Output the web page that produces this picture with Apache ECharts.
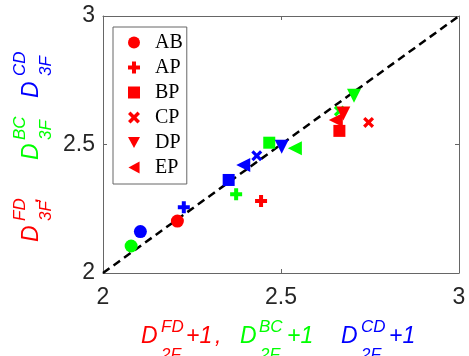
<!DOCTYPE html>
<html>
<head>
    <meta charset="utf-8">
</head>
<body style="margin: 0">
    <div id="main" style="width: 469px; height: 356px"></div>
    <script src="https://cdn.jsdelivr.net/npm/echarts@6/dist/echarts.min.js"></script>
    <script>
        // pair names in the legend
        var pairs = ['AB', 'AP', 'BP', 'CP', 'DP', 'EP']
        // red: D2F^FD + 1 vs D3F^FD
        var fdX = [2.209, 2.444, 2.664, 2.746, 2.675, 2.654]
        var fdY = [2.202, 2.280, 2.553, 2.586, 2.621, 2.595]
        // green: D2F^BC + 1 vs D3F^BC
        var bcX = [2.079, 2.374, 2.467, 2.664, 2.705, 2.539]
        var bcY = [2.105, 2.306, 2.507, 2.630, 2.690, 2.485]
        // blue: D2F^CD + 1 vs D3F^CD
        var cdX = [2.105, 2.227, 2.353, 2.432, 2.502, 2.394]
        var cdY = [2.161, 2.256, 2.362, 2.456, 2.491, 2.420]
        var diag = [[2, 2], [3, 3]]
        var xTicks = [2, 2.5, 3]

        var RED = '#ff0000', GREEN = '#00ff00', BLUE = '#0000ff'
        var plus = 'path://M4,0H8V4H12V8H8V12H4V8H0V4H4Z'
        var cross = 'path://M0,2.5L2.5,0L6,3.5L9.5,0L12,2.5L8.5,6L12,9.5L9.5,12L6,8.5L2.5,12L0,9.5L3.5,6Z'
        var square = 'path://M0,0H12V12H0Z'
        var triDown = 'path://M0,0L13,0L6.5,12Z'
        var triLeft = 'path://M12,0L12,13L0,6.5Z'
        var shapes = ['circle', plus, square, cross, triDown, triLeft]
        var sizes = [13, 12, 12, 11, 14, 14]

        var chart = echarts.init(document.getElementById('main'))

        var series = [{
            type: 'line',
            data: diag,
            symbol: 'none',
            silent: true,
            lineStyle: { color: '#000', width: 2.5, type: [8, 5] },
            z: 1
        }]
        pairs.forEach(function (p, i) {
            series.push({
                type: 'scatter',
                name: p,
                symbol: shapes[i],
                symbolSize: sizes[i],
                itemStyle: { color: RED, opacity: 1 },
                data: [
                    { value: [fdX[i], fdY[i]] },
                    { value: [bcX[i], bcY[i]], itemStyle: { color: GREEN } },
                    { value: [cdX[i], cdY[i]], itemStyle: { color: BLUE } }
                ],
                z: 3
            })
        })

        var axLine = { lineStyle: { color: '#666', width: 1 } }
        var lblFont = { fontSize: 23, color: '#262626', fontFamily: 'Liberation Sans, Arial' }

        function txt(t, x, y, size, color) {
            return {
                type: 'text',
                style: {
                    text: t, x: x, y: y,
                    font: 'italic ' + size + 'px "Liberation Sans", Arial',
                    fill: color, textAlign: 'left', textVerticalAlign: 'middle'
                }
            }
        }

        var option = {
            animation: false,
            grid: { left: 103, right: 10, top: 16, bottom: 83 },
            xAxis: [{
                type: 'value', min: 2, max: 3, interval: 0.5,
                axisLine: axLine,
                axisTick: { inside: true, length: 4, lineStyle: { color: '#666' } },
                axisLabel: Object.assign({ margin: 13, formatter: function (v) { return xTicks.indexOf(v) >= 0 ? String(v) : '' } }, lblFont),
                splitLine: { show: false }
            }, {
                type: 'value', min: 2, max: 3, interval: 0.5, position: 'top',
                axisLine: axLine,
                axisTick: { inside: true, length: 4, lineStyle: { color: '#666' } },
                axisLabel: { show: false },
                splitLine: { show: false }
            }],
            yAxis: [{
                type: 'value', min: 2, max: 3, interval: 0.5,
                axisLine: axLine,
                axisTick: { inside: true, length: 4, lineStyle: { color: '#666' } },
                axisLabel: Object.assign({ margin: 8 }, lblFont),
                splitLine: { show: false }
            }, {
                type: 'value', min: 2, max: 3, interval: 0.5, position: 'right',
                axisLine: axLine,
                axisTick: { inside: true, length: 4, lineStyle: { color: '#666' } },
                axisLabel: { show: false },
                splitLine: { show: false }
            }],
            legend: {
                data: pairs,
                orient: 'vertical',
                left: 113, top: 27,
                backgroundColor: '#fff',
                borderColor: '#666', borderWidth: 1, borderRadius: 0,
                padding: [3, 4, 4, 15],
                itemGap: 0, itemWidth: 12, itemHeight: 12,
                textStyle: { fontFamily: 'Liberation Serif, Times New Roman', fontSize: 20, lineHeight: 25, color: '#000', padding: [0, 0, 0, 10] }
            },
            series: series,
            graphic: [
                // x axis name
                txt('D', 141, 337, 23, RED),
                txt('FD', 161, 327, 17, RED),
                txt('2F', 161, 355, 17, RED),
                txt('+1', 186, 337, 23, RED),
                txt(',', 215, 337, 23, RED),
                txt('D', 240, 337, 23, GREEN),
                txt('BC', 259, 327, 17, GREEN),
                txt('2F', 260, 355, 17, GREEN),
                txt('+1', 287, 337, 23, GREEN),
                txt('D', 341, 337, 23, BLUE),
                txt('CD', 361, 327, 17, BLUE),
                txt('2F', 361, 355, 17, BLUE),
                txt('+1', 389, 337, 23, BLUE),
                // y axis name, rotated
                {
                    type: 'group',
                    x: 40, y: 242,
                    rotation: Math.PI / 2,
                    children: [
                        txt('D', 0, -8.5, 23, RED),
                        txt('FD', 21, -20, 17, RED),
                        txt('3F', 21, 6, 17, RED),
                        txt(',', 39, -8.5, 23, RED),
                        txt('D', 82, -8.5, 23, GREEN),
                        txt('BC', 102, -20, 17, GREEN),
                        txt('3F', 102, 6, 17, GREEN),
                        txt('D', 144, -8.5, 23, BLUE),
                        txt('CD', 166, -20, 17, BLUE),
                        txt('3F', 166, 6, 17, BLUE)
                    ]
                }
            ]
        }
        chart.setOption(option)
    </script>
</body>
</html>
